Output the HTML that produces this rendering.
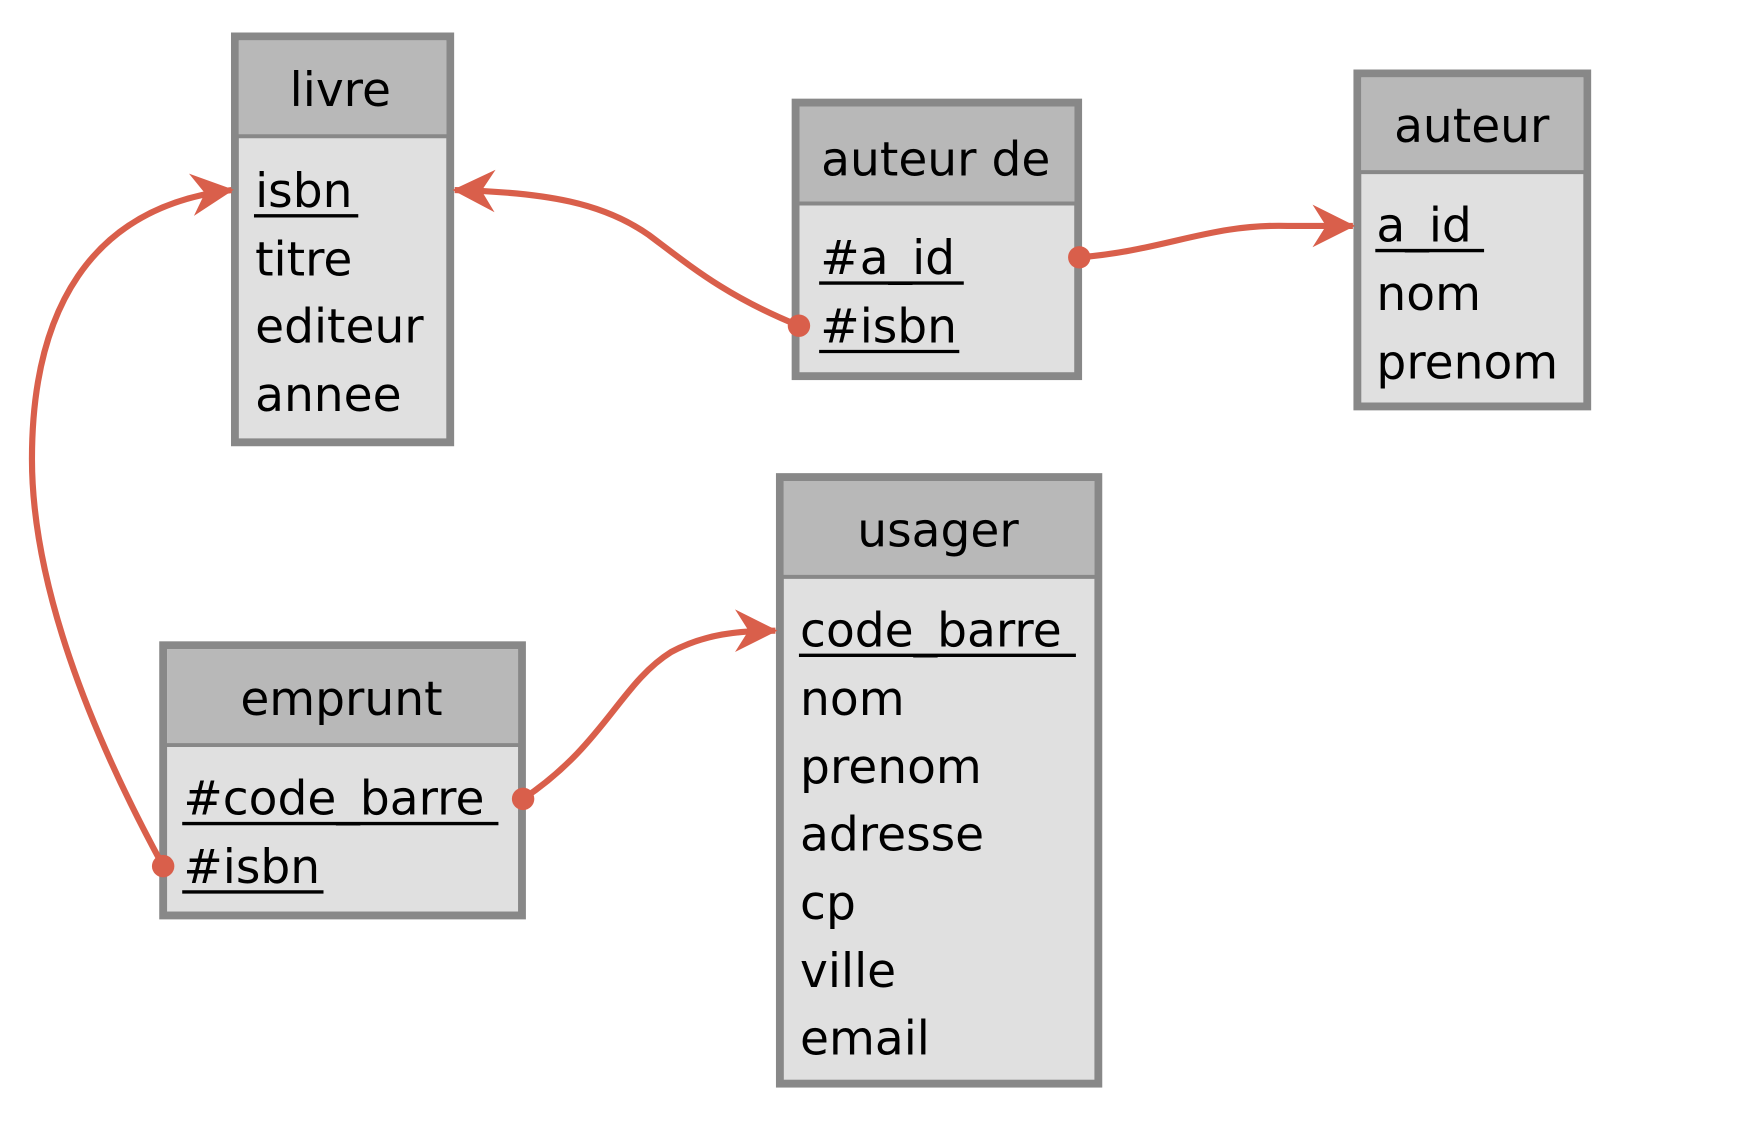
<!DOCTYPE html>
<html><head><meta charset="utf-8"><style>
html,body{margin:0;padding:0;background:#fff;}
svg{display:block}
text{font-family:"DejaVu Sans","Liberation Sans",sans-serif;font-size:42px;fill:#000}
</style></head><body>
<svg width="1756" height="1124" viewBox="1.5 0.5 1566 1002.5" preserveAspectRatio="none" xmlns="http://www.w3.org/2000/svg">
<defs>
<marker id="ar" markerUnits="userSpaceOnUse" viewBox="-40 -20 45 40" refX="0" refY="0" markerWidth="45" markerHeight="40" orient="auto">
<path d="M2,0 L-36,-19 L-24,0 L-36,19 Z" fill="#d95f4b"/>
</marker>
</defs>
<g fill="#e0e0e0" stroke="#888" stroke-width="7">
<rect x="211" y="33" width="192" height="362"/>
<rect x="711" y="92" width="252" height="244"/>
<rect x="1212" y="66" width="205" height="297"/>
<rect x="697" y="426" width="284" height="541"/>
<rect x="147" y="576" width="320" height="241"/>
</g>
<g fill="#b8b8b8">
<rect x="214.5" y="36.5" width="185" height="85"/>
<rect x="714.5" y="95.5" width="245" height="85"/>
<rect x="1215.5" y="69.5" width="198" height="84"/>
<rect x="700.5" y="429.5" width="277" height="85"/>
<rect x="150.5" y="579.5" width="313" height="85"/>
</g>
<g stroke="#888" stroke-width="3.5">
<line x1="211" y1="122" x2="403" y2="122"/>
<line x1="711" y1="182" x2="963" y2="182"/>
<line x1="1212" y1="154" x2="1417" y2="154"/>
<line x1="697" y1="515" x2="981" y2="515"/>
<line x1="147" y1="665" x2="467" y2="665"/>
</g>
<g text-anchor="middle">
<text x="305" y="95">livre</text>
<text x="836" y="157">auteur de</text>
<text x="1314" y="127">auteur</text>
<text x="838" y="488">usager</text>
<text x="306" y="638">emprunt</text>
</g>
<text x="229" y="185">isbn</text>
<text x="229" y="246">titre</text>
<text x="229" y="306">editeur</text>
<text x="229" y="367">annee</text>
<text x="733" y="245">#a_id</text>
<text x="733" y="306">#isbn</text>
<text x="1229" y="216">a_id</text>
<text x="1229" y="277">nom</text>
<text x="1229" y="338">prenom</text>
<text x="715" y="577">code_barre</text>
<text x="715" y="638">nom</text>
<text x="715" y="699">prenom</text>
<text x="715" y="759">adresse</text>
<text x="715" y="820">cp</text>
<text x="715" y="881">ville</text>
<text x="715" y="941">email</text>
<text x="165" y="727">#code_barre</text>
<text x="165" y="788">#isbn</text>
<g stroke="#000" stroke-width="3">
<line x1="228" y1="193" x2="321" y2="193"/>
<line x1="732" y1="253" x2="861" y2="253"/>
<line x1="732" y1="314" x2="857" y2="314"/>
<line x1="1228" y1="224" x2="1325" y2="224"/>
<line x1="714" y1="585" x2="961" y2="585"/>
<line x1="164" y1="735" x2="446" y2="735"/>
<line x1="164" y1="796" x2="290" y2="796"/>
</g>
<g fill="none" stroke="#d95f4b" stroke-width="5.5" marker-end="url(#ar)">
<path d="M714,291 C650,265 620,240 580,210 C540,182 490,172 407,170"/>
<path d="M964,230 C1040,224 1080,200 1150,202 L1208,202"/>
<path d="M147,773 C80,650 30,520 30,410 C30,280 80,185 208,170"/>
<path d="M468,713 C540,665 555,610 600,582 C630,566 660,563 693,563"/>
</g>
<g fill="#d95f4b">
<circle cx="714" cy="291" r="10"/>
<circle cx="964" cy="230" r="10"/>
<circle cx="147" cy="773" r="10"/>
<circle cx="468" cy="713" r="10"/>
</g>
</svg>
</body></html>
